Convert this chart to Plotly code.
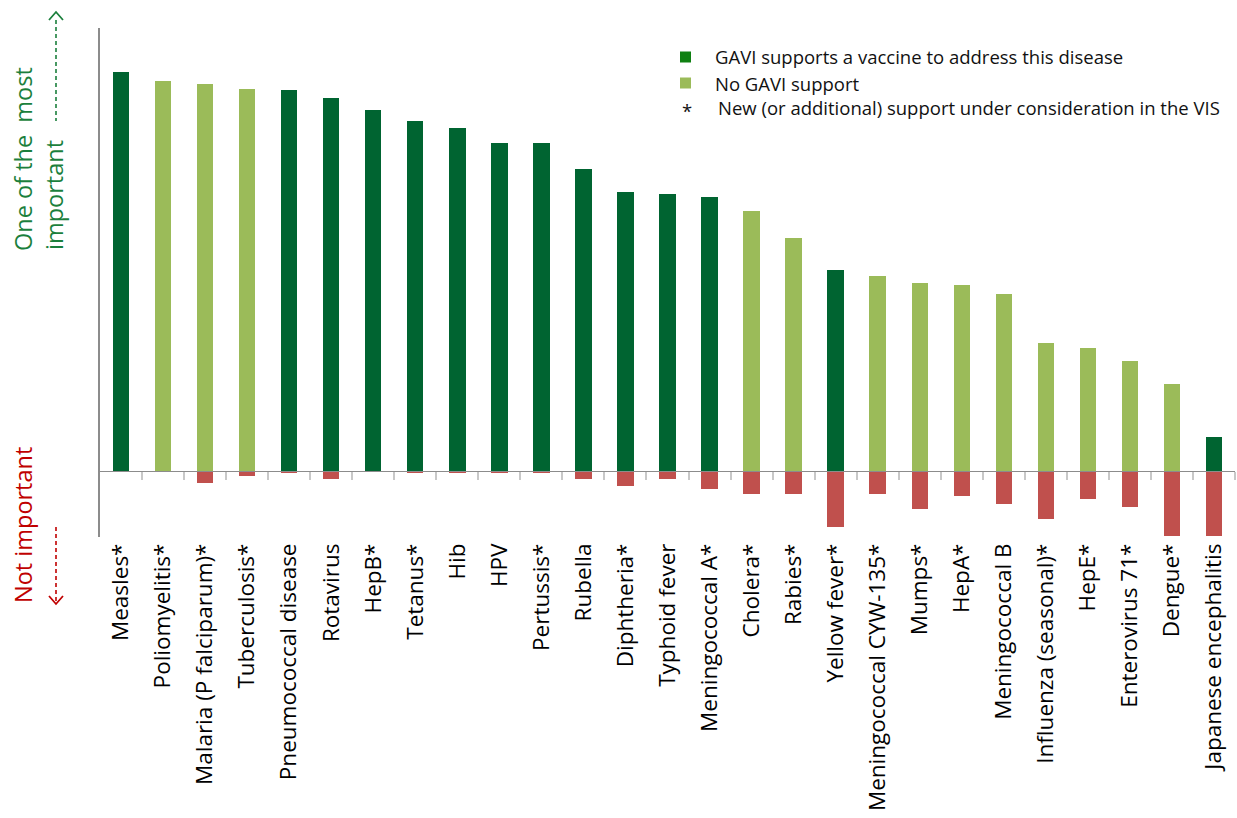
import plotly.graph_objects as go

diseases = ["Measles*", "Poliomyelitis*", "Malaria (P falciparum)*", "Tuberculosis*",
            "Pneumococcal disease", "Rotavirus", "HepB*", "Tetanus*", "Hib", "HPV",
            "Pertussis*", "Rubella", "Diphtheria*", "Typhoid fever", "Meningococcal A*",
            "Cholera*", "Rabies*", "Yellow fever*", "Meningococcal CYW-135*", "Mumps*",
            "HepA*", "Meningococcal B", "Influenza (seasonal)*", "HepE*", "Enterovirus 71*",
            "Dengue*", "Japanese encephalitis"]
# 1 = GAVI supports a vaccine, 0 = no GAVI support
gavi_support = [1, 0, 0, 0, 1, 1, 1, 1, 1, 1, 1, 1, 1, 1, 1,
                0, 0, 1, 0, 0, 0, 0, 0, 0, 0, 0, 1]
most_important = [399, 390, 387, 382, 381, 373, 361, 350, 343, 328, 328, 302, 279, 277, 274,
                  260, 233, 201, 195, 188, 186, 177, 128, 123, 110, 87, 34]
not_important = [0, 0, -12.3, -5, -2.2, -7.7, 0, -2.2, -2.2, -2.2, -2.2, -7.7, -15, -7.7, -18,
                 -22.7, -22.7, -56, -22.7, -38, -25.3, -33, -48, -28, -35.7, -65.3, -65.3]

DARK = "#006431"
LIGHT = "#9bbb59"
RED = "#c0504d"
GREEN_TXT = "#1b7f3c"
RED_TXT = "#c00000"

n = len(diseases)
xs = list(range(n))
FONT = "Open Sans"

fig = go.Figure()
fig.add_trace(go.Bar(x=xs, y=most_important, width=0.39,
                     marker=dict(color=[DARK if g else LIGHT for g in gavi_support], line_width=0),
                     showlegend=False, hoverinfo="skip"))
fig.add_trace(go.Bar(x=xs, y=not_important, width=0.39,
                     marker=dict(color=RED, line_width=0),
                     showlegend=False, hoverinfo="skip"))

L, R, T, B = 100, 2, 28, 281
W, H = 1237, 818
pw = W - L - R
ph = H - T - B
ymin, ymax = -66, 443


def px(xp):
    return (xp - L) / pw


def py(yp):
    return (H - B - yp) / ph


fig.update_layout(
    width=W, height=H, margin=dict(l=L, r=R, t=T, b=B),
    paper_bgcolor="white", plot_bgcolor="white",
    barmode="relative", bargap=0,
    font=dict(family=FONT, color="black"),
    xaxis=dict(range=[-0.5, n - 0.5], tickmode="array", tickvals=xs, ticktext=diseases,
               tickangle=-90, tickfont=dict(size=22.5, family=FONT, color="black"),
               showline=False, showgrid=False, zeroline=False, ticks="",
               ticklabelstandoff=1),
    xaxis2=dict(range=[-0.5, n - 0.5], overlaying="x", anchor="free",
                position=(0 - ymin) / (ymax - ymin), side="bottom",
                tickmode="array", tickvals=[i + 0.5 for i in range(n)],
                showticklabels=False, ticks="outside", ticklen=8, tickwidth=1.5,
                tickcolor="#c8c8c8", showline=True, linecolor="#8c8c8c", linewidth=1.3,
                showgrid=False, zeroline=False),
    yaxis=dict(range=[ymin, ymax], showticklabels=False, ticks="", showgrid=False,
               zeroline=False, showline=True, linecolor="#8c8c8c", linewidth=2),
)

# invisible helper trace so the baseline axis is drawn
fig.add_trace(go.Scatter(x=[0], y=[0], xaxis="x2", mode="markers",
                         marker=dict(opacity=0), showlegend=False, hoverinfo="skip"))

shapes = []
# green dashed arrow
shapes.append(dict(type="line", xref="paper", yref="paper", x0=px(56), x1=px(56),
                   y0=py(20), y1=py(121), line=dict(color=GREEN_TXT, width=1.6, dash="4px,3px")))
shapes.append(dict(type="path", xref="paper", yref="paper",
                   path=f"M {px(49)},{py(20)} L {px(56)},{py(12)} L {px(63)},{py(20)}",
                   line=dict(color=GREEN_TXT, width=1.8)))
# red dashed arrow
shapes.append(dict(type="line", xref="paper", yref="paper", x0=px(56), x1=px(56),
                   y0=py(527), y1=py(602), line=dict(color=RED_TXT, width=1.6, dash="4px,3px")))
shapes.append(dict(type="path", xref="paper", yref="paper",
                   path=f"M {px(49)},{py(596)} L {px(56)},{py(604)} L {px(63)},{py(596)}",
                   line=dict(color=RED_TXT, width=1.8)))
# legend squares
shapes.append(dict(type="rect", xref="paper", yref="paper", x0=px(680), x1=px(691),
                   y0=py(51.5), y1=py(62.5), fillcolor="#0f8012", line_width=0))
shapes.append(dict(type="rect", xref="paper", yref="paper", x0=px(680), x1=px(691),
                   y0=py(77.5), y1=py(88.5), fillcolor=LIGHT, line_width=0))
fig.update_layout(shapes=shapes)

ann = []
ann.append(dict(text="One of the\u00a0 most", x=px(23), y=py(159), xref="paper", yref="paper",
                textangle=-90, showarrow=False, xanchor="center", yanchor="middle",
                font=dict(size=23.5, color=GREEN_TXT, family=FONT)))
ann.append(dict(text="important", x=px(54), y=py(195), xref="paper", yref="paper",
                textangle=-90, showarrow=False, xanchor="center", yanchor="middle",
                font=dict(size=23.5, color=GREEN_TXT, family=FONT)))
ann.append(dict(text="Not important", x=px(23), y=py(525), xref="paper", yref="paper",
                textangle=-90, showarrow=False, xanchor="center", yanchor="middle",
                font=dict(size=23.5, color=RED_TXT, family=FONT)))
legend_rows = [("GAVI supports a vaccine to address this disease", 713, 57),
               ("No GAVI support", 713, 83),
               ("New (or additional) support under consideration in the VIS", 716, 108)]
for t, x0, y0 in legend_rows:
    ann.append(dict(text=t, x=px(x0), y=py(y0), xref="paper", yref="paper", showarrow=False,
                    xanchor="left", yanchor="middle", font=dict(size=18.5, color="#111", family=FONT)))
ann.append(dict(text="*", x=px(687), y=py(110), xref="paper", yref="paper", showarrow=False,
                xanchor="center", yanchor="middle", font=dict(size=18.5, color="#111", family=FONT)))
fig.update_layout(annotations=ann)

fig.write_html("out.html")
